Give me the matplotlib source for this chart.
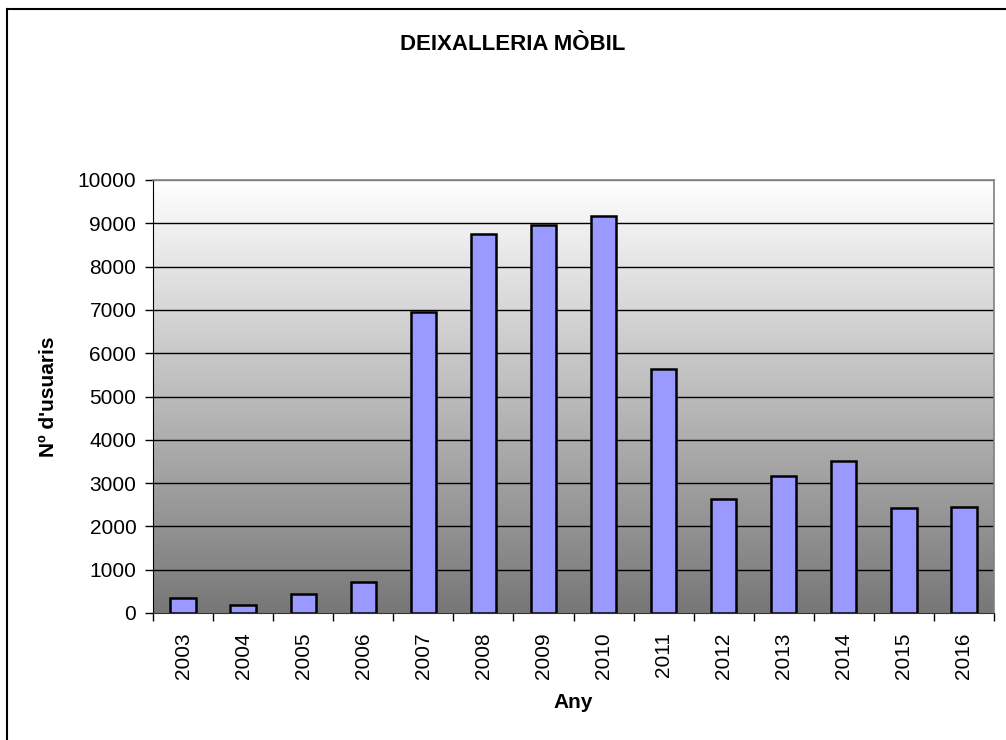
import numpy as np
import matplotlib.pyplot as plt
from matplotlib.lines import Line2D

# Data
years = ['2003', '2004', '2005', '2006', '2007', '2008', '2009',
         '2010', '2011', '2012', '2013', '2014', '2015', '2016']
usuaris = [340, 180, 440, 710, 6940, 8750, 8950,
           9180, 5640, 2630, 3160, 3500, 2430, 2440]

plt.rcParams['font.family'] = ['Liberation Sans', 'DejaVu Sans']

fig = plt.figure(figsize=(10.06, 7.40), dpi=100)
ax = fig.add_axes([153 / 1006, 1 - 613 / 740, (994 - 153) / 1006, (613 - 180) / 740])

x = np.arange(len(years))
ax.set_xlim(-0.5, len(years) - 0.5)
ax.set_ylim(0, 10000)

# gradient background (white at top, grey at bottom)
grad = np.linspace(1.0, 0.0, 256).reshape(-1, 1)
ax.imshow(grad, extent=[-0.5, len(years) - 0.5, 0, 10000], aspect='auto',
          cmap=plt.cm.colors.LinearSegmentedColormap.from_list('g', ['#777777', '#ffffff']),
          origin='upper', zorder=0, vmin=0, vmax=1)

ax.set_yticks(np.arange(0, 10001, 1000))
for v in np.arange(1000, 10001, 1000):
    ax.axhline(v, color='black' if v < 10000 else '#808080', lw=1, zorder=1)

ax.bar(x, usuaris, width=0.42, color='#9999ff', edgecolor='black', linewidth=1.8, zorder=2)

ax.set_xticks(np.arange(-0.5, len(years), 1.0))
ax.set_xticklabels([])
ax.set_xticks(x, minor=True)
ax.set_xticklabels(years, minor=True, rotation=90, fontsize=15)
ax.tick_params(axis='x', which='minor', length=0, pad=14)
ax.tick_params(axis='x', which='major', length=6, width=1, color='black', direction='out')
ax.tick_params(axis='y', length=6, width=1, direction='out', labelsize=15, pad=6)

for s in ['top', 'right']:
    ax.spines[s].set_color('#808080')
    ax.spines[s].set_linewidth(1.2)
ax.spines['left'].set_color('black')
ax.spines['bottom'].set_color('#333333')

ax.set_xlabel('Any', fontsize=15, fontweight='bold', labelpad=10)
ax.set_ylabel("Nº d'usuaris", fontsize=15, fontweight='bold', labelpad=14)
fig.text(0.51, 1 - 45 / 740, 'DEIXALLERIA MÒBIL',
         ha='center', va='center', fontsize=16, fontweight='bold')

# outer chart frame (left and top visible)
fig.add_artist(Line2D([7 / 1006, 7 / 1006], [0, 1 - 9 / 740], color='black', lw=1.5,
                      transform=fig.transFigure))
fig.add_artist(Line2D([7 / 1006, 1], [1 - 9 / 740, 1 - 9 / 740], color='black', lw=1.5,
                      transform=fig.transFigure))

plt.savefig('out.png', dpi=100)
